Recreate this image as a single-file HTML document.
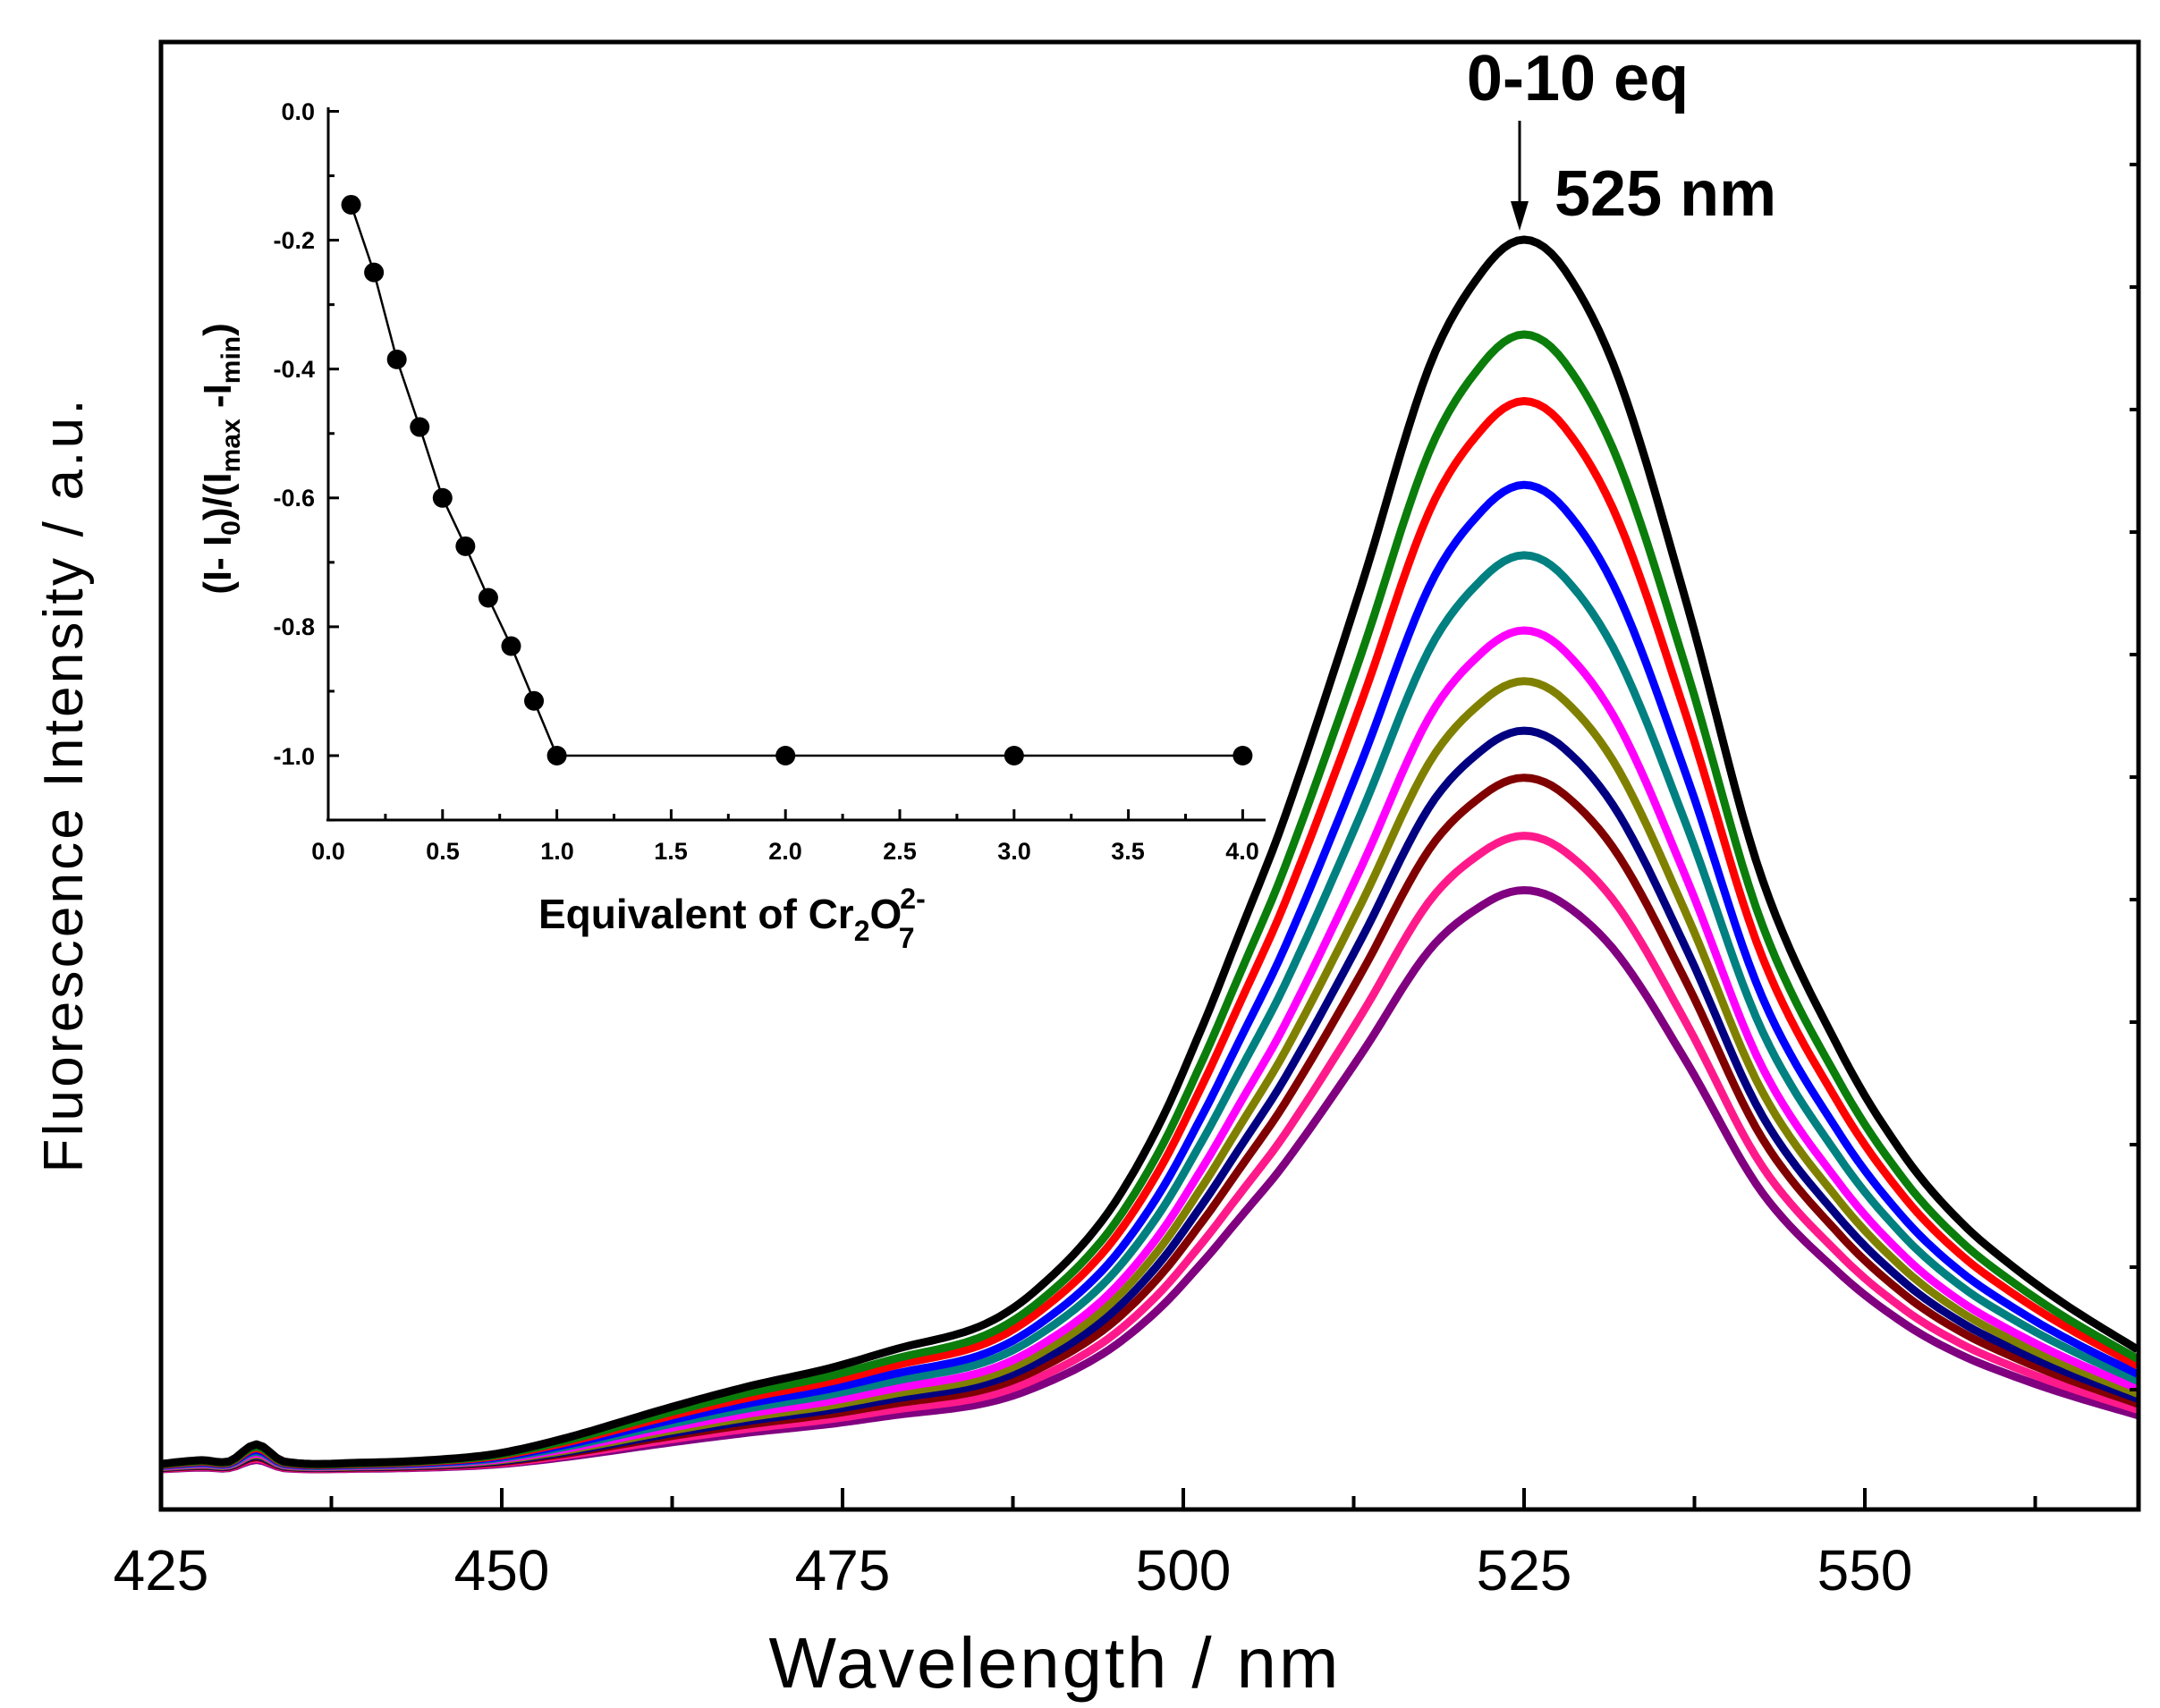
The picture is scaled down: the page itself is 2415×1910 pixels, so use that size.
<!DOCTYPE html>
<html><head><meta charset="utf-8">
<style>html,body{margin:0;padding:0;background:#fff;}svg{display:block;}</style>
</head><body>
<svg id="s" xmlns="http://www.w3.org/2000/svg" width="2415" height="1910" viewBox="0 0 2415 1910" font-family="Liberation Sans, Arial, sans-serif">
<rect x="0" y="0" width="2415" height="1910" fill="#fff"/>
<g id="curves"></g>
<rect x="180" y="47" width="2211" height="1641" fill="none" stroke="#000" stroke-width="5"/>
<g id="ticks" stroke="#000" stroke-width="4"></g>
<g font-size="64" text-anchor="middle" fill="#000">
<text x="180" y="1778">425</text><text x="561" y="1778">450</text><text x="942" y="1778">475</text>
<text x="1323" y="1778">500</text><text x="1704" y="1778">525</text><text x="2085" y="1778">550</text>
</g>
<text x="1178" y="1887" font-size="80" text-anchor="middle" textLength="637">Wavelength / nm</text>
<text transform="translate(92,879) rotate(-90)" font-size="62" text-anchor="middle" textLength="865">Fluorescence Intensity / a.u.</text>
<text x="1764" y="112" font-size="72" font-weight="bold" text-anchor="middle">0-10 eq</text>
<text x="1738" y="241" font-size="72" font-weight="bold">525 nm</text>
<line x1="1699" y1="135" x2="1699" y2="232" stroke="#000" stroke-width="3"/>
<polygon points="1689,225 1709,225 1699,258" fill="#000"/>
<g id="inset"></g>
<g font-size="27" font-weight="bold" text-anchor="end" fill="#000">
<text x="352" y="134">0.0</text><text x="352" y="278">-0.2</text><text x="352" y="422">-0.4</text>
<text x="352" y="566">-0.6</text><text x="352" y="710">-0.8</text><text x="352" y="855">-1.0</text>
</g>
<g font-size="27" font-weight="bold" text-anchor="middle" fill="#000">
<text x="367" y="961">0.0</text><text x="495" y="961">0.5</text><text x="623" y="961">1.0</text>
<text x="750" y="961">1.5</text><text x="878" y="961">2.0</text><text x="1006" y="961">2.5</text>
<text x="1134" y="961">3.0</text><text x="1261" y="961">3.5</text><text x="1389" y="961">4.0</text>
</g>
<text x="602" y="1038" font-size="46" font-weight="bold">Equivalent of Cr<tspan font-size="32" dy="14">2</tspan><tspan dy="-14">O</tspan><tspan font-size="32" dx="-2" dy="-22">2-</tspan><tspan font-size="32" dx="-30" dy="44">7</tspan></text>
<text transform="translate(258,513) rotate(-90)" font-size="44" font-weight="bold" text-anchor="middle">(I- I<tspan font-size="30" dy="10">0</tspan><tspan dy="-10">)/(I</tspan><tspan font-size="30" dy="10">max</tspan><tspan dy="-10"> -I</tspan><tspan font-size="30" dy="10">min</tspan><tspan dy="-10">)</tspan></text>
</svg>
<script>
(function(){
var NS="http://www.w3.org/2000/svg";
function el(t,a,p){var e=document.createElementNS(NS,t);for(var k in a)e.setAttribute(k,a[k]);p.appendChild(e);return e;}
var T=[[425,0],[428,.003],[430,.002],[432,.016],[434,.002],[440,.001],[446,.004],[450,.009],[455,.022],[462,.045],[468,.063],[474,.078],[479,.094],[485,.112],[489,.14],[494,.198],[498,.272],[501.5,.36],[504,.43],[507.5,.53],[513,.715],[518,.895],[522,.975],[525,1],[528,.975],[532,.885],[537,.70],[542.4,.48],[548.3,.335],[553,.25],[557,.198],[561,.16],[565,.128],[570.5,.09]];
function f(l){
 for(var i=0;i<T.length-1;i++){ if(l<=T[i+1][0]){
  var p0=T[Math.max(i-1,0)],p1=T[i],p2=T[i+1],p3=T[Math.min(i+2,T.length-1)];
  var h=p2[0]-p1[0],t=(l-p1[0])/h;
  var m1=(p2[1]-p0[1])/((p2[0]-p0[0])||1)*h;
  var m2=(p3[1]-p1[1])/((p3[0]-p1[0])||1)*h;
  var t2=t*t,t3=t2*t;
  return (2*t3-3*t2+1)*p1[1]+(t3-2*t2+t)*m1+(-2*t3+3*t2)*p2[1]+(t3-t2)*m2;}}
 return T[T.length-1][1];}
var cols=["#000000","#0b7d0b","#ff0000","#0000ff","#008080","#ff00ff","#808000","#000080","#800000","#ff1a8c","#800080"];
var r=[1,.923,.869,.801,.744,.683,.642,.602,.564,.517,.473];
var g=document.getElementById("curves");
var A=1369;
for(var c=10;c>=0;c--){
 var d="";
 for(var l=425;l<=570.1;l+=0.5){
  var x=180+(l-425)*15.24;
  var y=1637+c*0.6-A*r[c]*f(l);
  d+=(d?"L":"M")+x.toFixed(1)+","+y.toFixed(1);
 }
 el("path",{d:d,fill:"none",stroke:cols[c],"stroke-width":9,"stroke-linejoin":"round"},g);
}
var tk=document.getElementById("ticks");
for(var l=425;l<=570;l+=12.5){
 var x=180+(l-425)*15.24; var maj=((l-425)%25)==0;
 el("line",{x1:x,y1:1688,x2:x,y2:1688-(maj?24:15)},tk);
}
for(var i=1;i<12;i++){var y=47+i*137;el("line",{x1:2391,y1:y,x2:2381,y2:y},tk);}
var ins=document.getElementById("inset");
function X(u){return 367+u*255.6;} function Y(v){return 124.5-v*720.5;}
el("line",{x1:367,y1:120,x2:367,y2:917,stroke:"#000","stroke-width":3},ins);
el("line",{x1:365,y1:917,x2:1415,y2:917,stroke:"#000","stroke-width":3},ins);
for(var v=0;v<=11;v++){var y=Y(-v*0.1);el("line",{x1:367,y1:y,x2:367+(v%2==0?12:7),y2:y,stroke:"#000","stroke-width":3},ins);}
for(var u=0;u<=16;u++){var x=X(u*0.25);el("line",{x1:x,y1:917,x2:x,y2:917-(u%2==0?12:7),stroke:"#000","stroke-width":3},ins);}
var P=[[.1,-.145],[.2,-.25],[.3,-.385],[.4,-.49],[.5,-.6],[.6,-.675],[.7,-.755],[.8,-.83],[.9,-.915],[1,-1],[2,-1],[3,-1],[4,-1]];
var dd="";P.forEach(function(p,i){dd+=(i?"L":"M")+X(p[0])+","+Y(p[1]);});
el("path",{d:dd,fill:"none",stroke:"#000","stroke-width":2.5},ins);
P.forEach(function(p){el("circle",{cx:X(p[0]),cy:Y(p[1]),r:11,fill:"#000"},ins);});
})();
</script>
</body></html>
